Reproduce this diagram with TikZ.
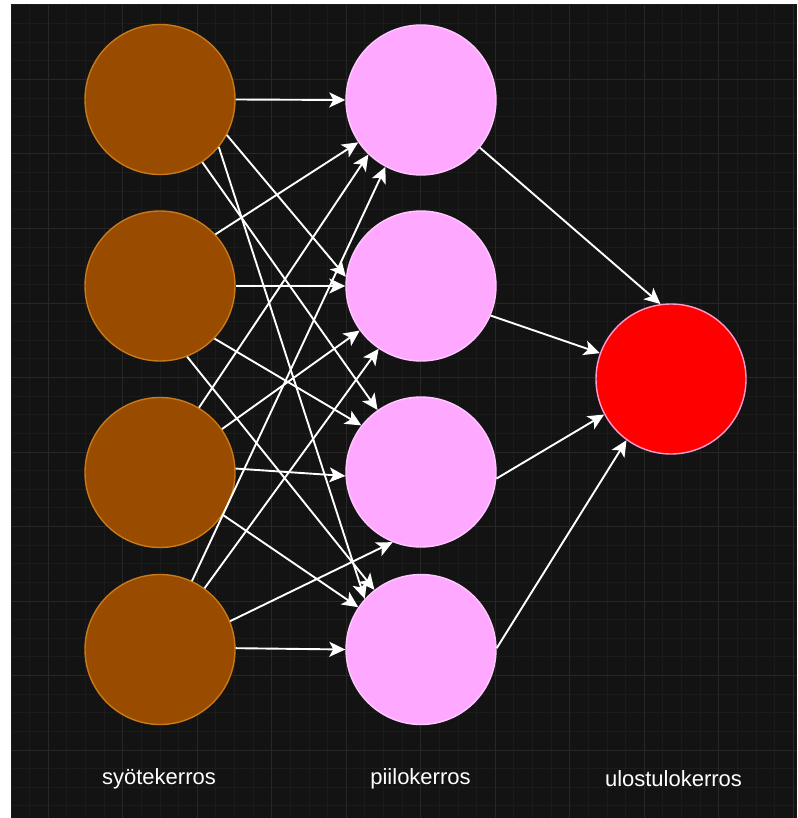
\documentclass[tikz,border=0pt]{standalone}
\usepackage{fontspec}
\setmainfont{Liberation Sans}
\usetikzlibrary{arrows.meta}

\definecolor{canvasbg}{HTML}{131313}
\definecolor{gridminor}{HTML}{1B1B1B}
\definecolor{gridmajor}{HTML}{272727}
\definecolor{inputfill}{HTML}{994C00}
\definecolor{inputline}{HTML}{C8791A}
\definecolor{hiddenfill}{HTML}{FFA8FF}
\definecolor{hiddenline}{HTML}{FFC8FF}
\definecolor{outfill}{HTML}{FF0000}
\definecolor{outline}{HTML}{FF9ACD}

\tikzset{
  neuron/.style={circle, minimum size=150pt, inner sep=0pt, line width=1.4pt},
  inneuron/.style={neuron, fill=inputfill, draw=inputline},
  hidneuron/.style={neuron, fill=hiddenfill, draw=hiddenline},
  outneuron/.style={neuron, fill=outfill, draw=outline},
  link/.style={draw=white, line width=1.9pt,
    -{Stealth[length=16pt, width=15pt, inset=4pt]}},
  layerlabel/.style={text=white, font=\fontsize{22}{26}\selectfont}
}

\begin{document}
\begin{tikzpicture}[x=1pt, y=-1pt]
  % page and dark canvas
  \useasboundingbox (0,0) rectangle (797,818);
  \fill[white] (0,0) rectangle (797,818);
  \fill[canvasbg] (11,5) rectangle (797,818);

  % background grid: fine lines, with every fourth one stronger
  \begin{scope}
    \clip (11,5) rectangle (797,818);
    \foreach \k in {0,...,43} {
      \draw[gridminor, line width=1pt] ({11+18.625*\k},5) -- ({11+18.625*\k},818);
      \draw[gridminor, line width=1pt] (11,{5+18.625*\k}) -- (797,{5+18.625*\k});
    }
    \foreach \k in {0,...,10} {
      \draw[gridmajor, line width=1pt] ({48.25+74.5*\k},5) -- ({48.25+74.5*\k},818);
      \draw[gridmajor, line width=1pt] (11,{79.5+74.5*\k}) -- (797,{79.5+74.5*\k});
    }
  \end{scope}

  % input layer
  \node[inneuron] (I1) at (160,99.5) {};
  \node[inneuron] (I2) at (160,286) {};
  \node[inneuron] (I3) at (160,472.5) {};
  \node[inneuron] (I4) at (160,649.5) {};

  % hidden layer
  \node[hidneuron] (H1) at (421,100) {};
  \node[hidneuron] (H2) at (421,286) {};
  \node[hidneuron] (H3) at (421,472) {};
  \node[hidneuron] (H4) at (421,649.5) {};

  % output layer
  \node[outneuron] (O) at (671,379) {};

  % input -> hidden
  \draw[link] (I1.0)   -- (H1.180);
  \draw[link] (I1.-28) -- (H2.173);
  \draw[link] (I1.-56) -- (H3.125);
  \draw[link] (I1.-39) -- (H4.138);

  \draw[link] (I2.43)  -- (H1.214);
  \draw[link] (I2.0)   -- (H2.180);
  \draw[link] (I2.-44) -- (H3.142);
  \draw[link] (I2.-69) -- (H4.128);

  \draw[link] (I3.59)  -- (H1.226);
  \draw[link] (I3.35)  -- (H2.216);
  \draw[link] (I3.3)   -- (H3.183);
  \draw[link] (I3.-34) -- (H4.146);

  \draw[link] (I4.65)  -- (H1.242);
  \draw[link] (I4.54)  -- (H2.236);
  \draw[link] (I4.22)  -- (H3.248);
  \draw[link] (I4.1)   -- (H4.180);

  % hidden -> output
  \draw[link] (H1.-39) -- (O.98);
  \draw[link] (H2.-23) -- (O.160);
  \draw[link] (H3.-5)  -- (O.208);
  \draw[link] (H4.1)   -- (O.234);

  % layer captions
  \node[layerlabel] (Lin)  at (159,779)   {syötekerros};
  \node[layerlabel] (Lhid) at (420.5,779) {piilokerros};
  \node[layerlabel] (Lout) at (673.5,779) {ulostulokerros};
\end{tikzpicture}
\end{document}
